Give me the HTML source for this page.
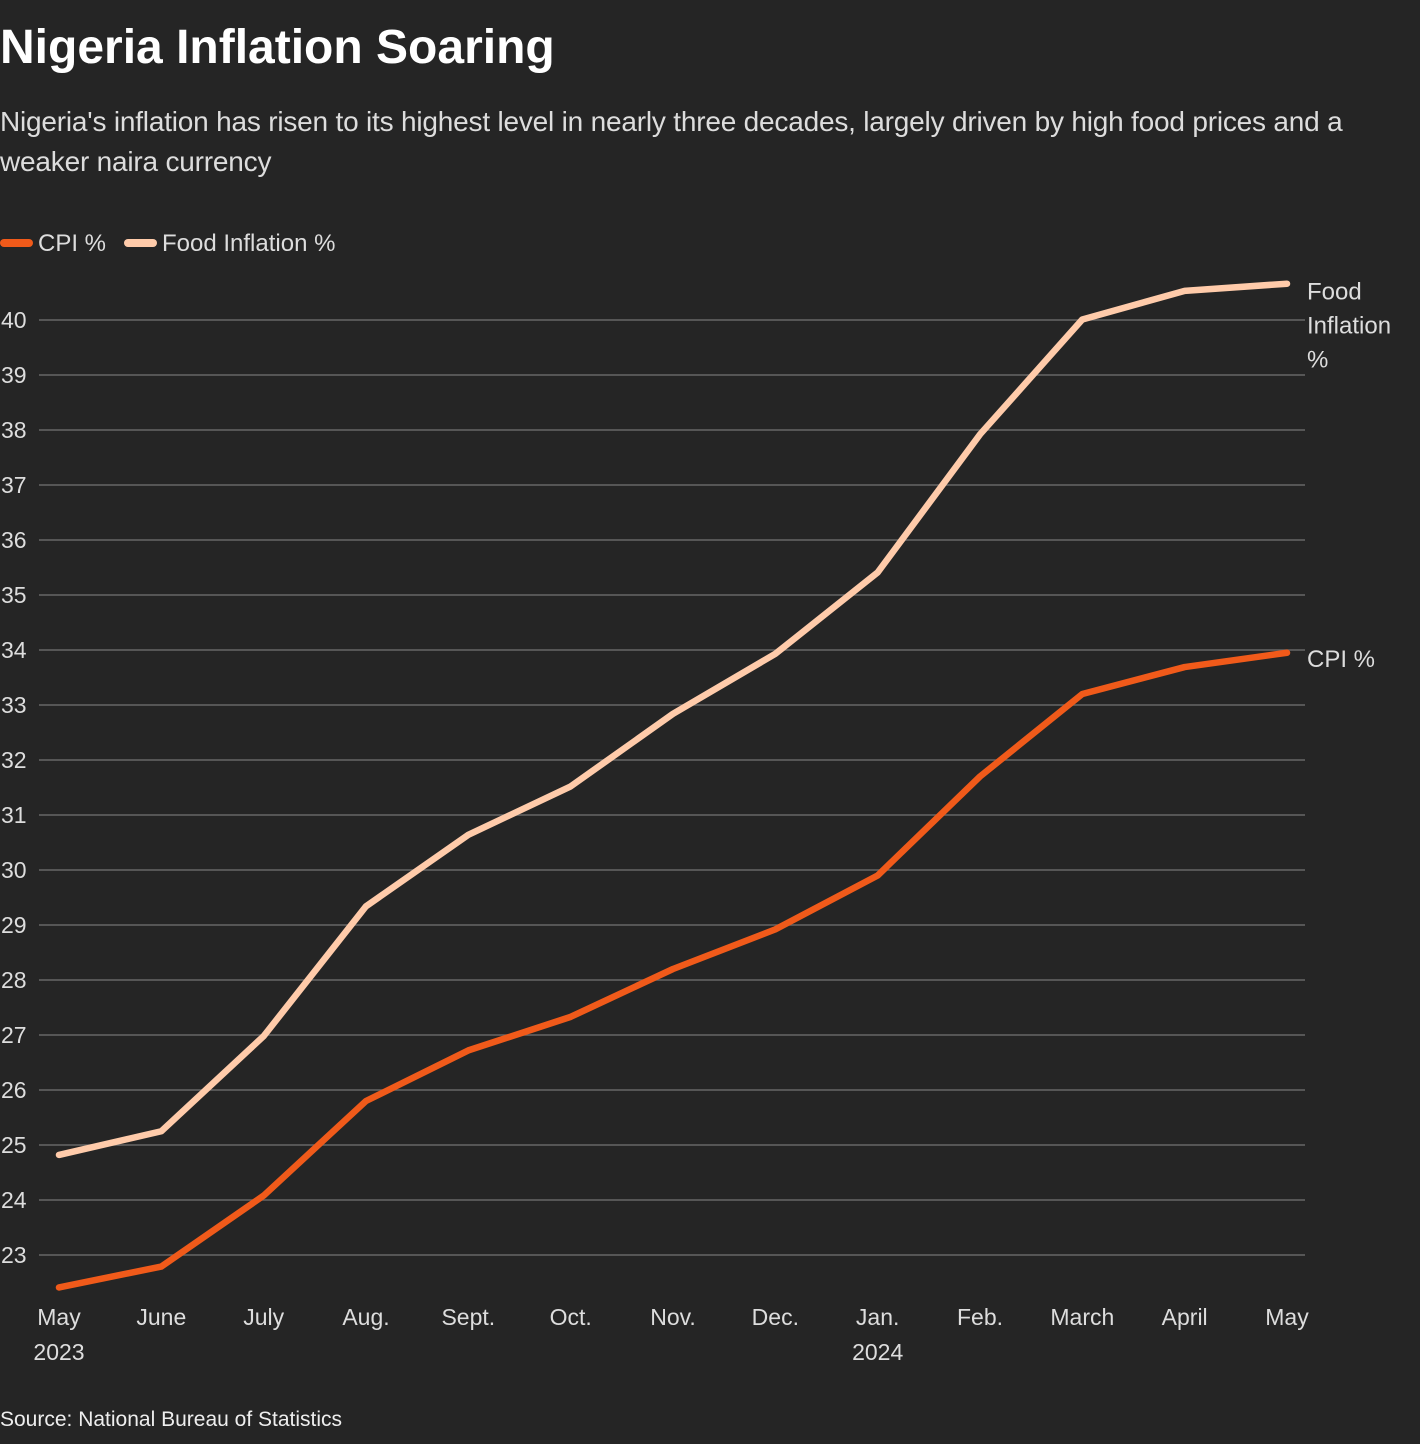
<!DOCTYPE html>
<html><head><meta charset="utf-8"><style>
body{margin:0;background:#252525;width:1420px;height:1444px;overflow:hidden;font-family:"Liberation Sans",sans-serif;color:#fff}
#t{position:absolute;left:0;top:20px;font-size:48px;font-weight:bold;letter-spacing:0px}
#s{position:absolute;left:0;top:102px;font-size:28px;line-height:40px;color:#ddd;width:1410px;letter-spacing:-0.2px}
#src{position:absolute;left:0;top:1408px;font-size:21px;color:#eee}
svg{position:absolute;left:0;top:0}
text{font-family:"Liberation Sans",sans-serif;fill:#ddd}
</style></head><body>
<div id="t">Nigeria Inflation Soaring</div>
<div id="s">Nigeria's inflation has risen to its highest level in nearly three decades, largely driven by high food prices and a weaker naira currency</div>
<div id="src">Source: National Bureau of Statistics</div>
<svg id="c" width="1420" height="1444">
<g>
<line x1="4" y1="243" x2="29" y2="243" stroke="#f05a1a" stroke-width="8" stroke-linecap="round"/>
<text x="38" y="251" font-size="24">CPI %</text>
<line x1="128" y1="243" x2="153" y2="243" stroke="#ffcbaa" stroke-width="8" stroke-linecap="round"/>
<text x="162" y="251" font-size="24">Food Inflation %</text>
</g>
</svg>
<script>
const months=["May","June","July","Aug.","Sept.","Oct.","Nov.","Dec.","Jan.","Feb.","March","April","May"];
const years=["2023","","","","","","","","2024","","","",""];
const cpi=[22.41,22.79,24.08,25.80,26.72,27.33,28.20,28.92,29.90,31.70,33.20,33.69,33.95];
const food=[24.82,25.25,26.98,29.34,30.64,31.52,32.84,33.93,35.41,37.92,40.01,40.53,40.66];
const yTicks=[23,24,25,26,27,28,29,30,31,32,33,34,35,36,37,38,39,40];
const svg=document.getElementById('c');
const NS='http://www.w3.org/2000/svg';
const x=i=>59+i*(1287-59)/12;
const y=v=>320+(40-v)*55;
function mk(tag,attrs){const e=document.createElementNS(NS,tag);for(const k in attrs)e.setAttribute(k,attrs[k]);svg.appendChild(e);return e;}
yTicks.forEach(v=>{
 const l=mk('line',{x1:39,x2:1305,y1:y(v),y2:y(v),stroke:'#666','stroke-width':1.5});
 
 
 const t=mk('text',{x:1,y:y(v)+8,'font-size':23});t.textContent=v;
 
 
});
months.forEach((m,i)=>{
 const t=mk('text',{x:x(i),y:1325,'font-size':23,'text-anchor':'middle'});t.textContent=m;
 
 
 if(years[i]){const t2=mk('text',{x:x(i),y:1360,'font-size':23,'text-anchor':'middle'});t2.textContent=years[i];
 
 }
});
function line(d,c,n){
 const p=mk('polyline',{points:d.map((v,i)=>x(i)+','+y(v)).join(' '),fill:'none',stroke:c,'stroke-width':6.5,'stroke-linejoin':'round','stroke-linecap':'round'});
 
 
}
line(food,'#ffcbaa','food-inflation-line');
line(cpi,'#f05a1a','cpi-line');
const fl=["Food","Inflation","%"];
fl.forEach((s,i)=>{const t=mk('text',{x:1307,y:y(food[12])+16+i*34,'font-size':24});t.textContent=s;
 
 });
const cl=mk('text',{x:1307,y:y(cpi[12])+14,'font-size':24});cl.textContent="CPI %";


</script>
</body></html>
